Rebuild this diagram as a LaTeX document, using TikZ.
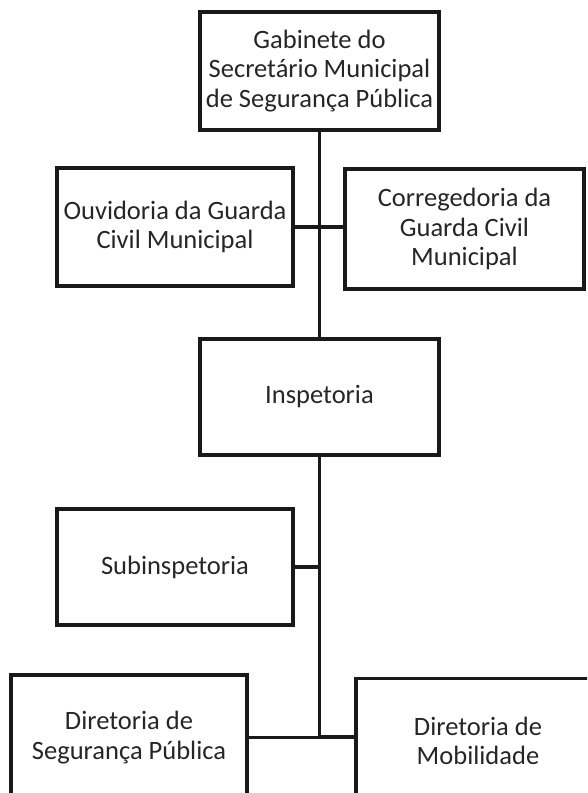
\documentclass[tikz,border=0pt]{standalone}
\usepackage{fontspec}
\setmainfont{Carlito}
\begin{document}
\begin{tikzpicture}[x=1pt,y=-1pt,
  orgbox/.style={draw=black!90, line width=3.5pt, fill=white, align=center, inner sep=0pt,
    font=\fontsize{26.5}{29.5}\selectfont, text=black!85},
  link/.style={draw=black!90, line width=3.5pt}]
\fill[white] (0,0) rectangle (587,793);
\useasboundingbox (0,0) rectangle (587,793);
\clip (0,0) rectangle (587,793);
\node[orgbox, minimum width=239pt, minimum height=118pt] (g) at (319.5,71) {Gabinete do\\Secretário Municipal\\de Segurança Pública};
\node[orgbox, minimum width=236pt, minimum height=118pt] (ouv) at (175,227) {Ouvidoria da Guarda\\Civil Municipal};
\node[orgbox, minimum width=239pt, minimum height=120pt] (cor) at (464.5,229) {Corregedoria da\\Guarda Civil\\Municipal};
\node[orgbox, minimum width=239pt, minimum height=116pt] (insp) at (319.5,397) {Inspetoria};
\node[orgbox, minimum width=236pt, minimum height=116pt] (sub) at (175,567) {Subinspetoria};
\node[orgbox, minimum width=236pt, minimum height=125pt] (dsp) at (129,737.5) {Diretoria de\\Segurança Pública};
\node[orgbox, minimum width=244pt, minimum height=125pt] (mob) at (478,741) {Diretoria de\\Mobilidade};
\coordinate (j) at (319.5,737);
\draw[link] (g.south) -- (insp.north);
\draw[link] (ouv.east) -- (ouv.east -| cor.west);
\draw[link] (insp.south) -- (j);
\draw[link] (sub.east) -- (sub.east -| insp.south);
\draw[link] (dsp.east) -- (dsp.east -| j);
\draw[link] (j) -- (j -| mob.west);
\end{tikzpicture}
\end{document}
